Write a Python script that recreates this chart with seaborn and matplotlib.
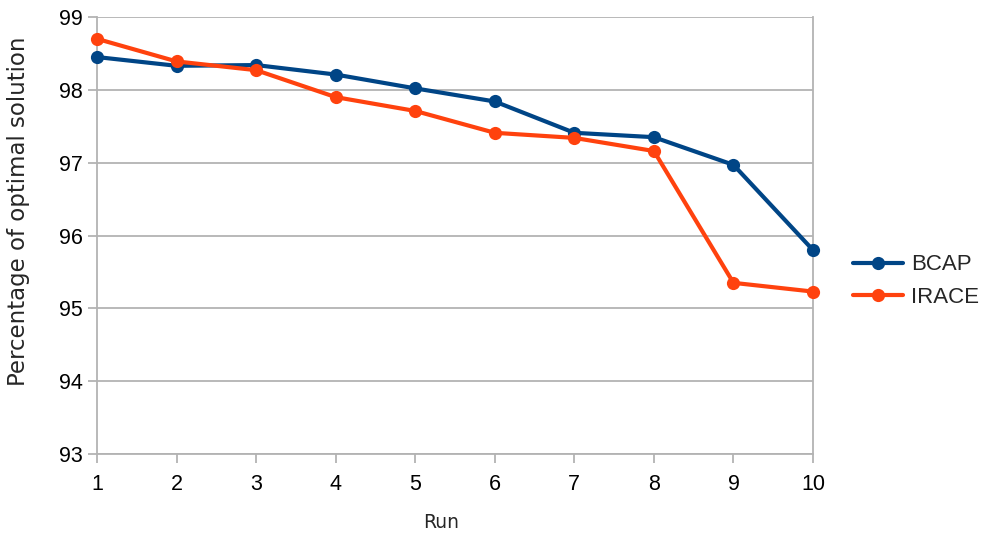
import matplotlib
matplotlib.use("Agg")
import matplotlib.pyplot as plt
import seaborn as sns
import pandas as pd

runs = [1, 2, 3, 4, 5, 6, 7, 8, 9, 10]
bcap = [98.45, 98.33, 98.34, 98.21, 98.02, 97.84, 97.41, 97.35, 96.97, 95.80]
irace = [98.70, 98.39, 98.27, 97.90, 97.71, 97.41, 97.34, 97.16, 95.35, 95.23]
series_names = ["BCAP", "IRACE"]
y_ticks = [93, 94, 95, 96, 97, 98, 99]

df = pd.DataFrame({
    "Run": runs * 2,
    "value": bcap + irace,
    "series": [series_names[0]] * len(runs) + [series_names[1]] * len(runs),
})

sns.set_theme(style="white")
plt.rcParams["font.family"] = ["Liberation Sans", "DejaVu Sans"]

W, H = 982, 537
fig = plt.figure(figsize=(W / 100, H / 100), dpi=100)
ax = fig.add_axes([97 / W, 1 - 454 / H, (813 - 97) / W, (454 - 17) / H])

palette = {"BCAP": "#004586", "IRACE": "#ff420e"}
sns.lineplot(data=df, x="Run", y="value", hue="series", palette=palette,
             marker="o", markersize=9.5, markeredgewidth=0, linewidth=3.0,
             ax=ax, legend=True)
for ln in ax.lines:
    ln.set_clip_on(False)
    ln.set_zorder(3)

grid_c = "#b3b3b3"
ax.set_xlim(1, 10)
ax.set_ylim(93, 99)
ax.set_xticks(runs)
ax.set_yticks(y_ticks)
ax.yaxis.grid(True, color=grid_c, linewidth=1.3)
ax.set_axisbelow(True)
for s in ax.spines.values():
    s.set_color(grid_c)
    s.set_linewidth(1.3)
ax.spines["top"].set_visible(False)
ax.tick_params(axis="both", which="both", direction="out", length=6.5,
               width=1.3, color=grid_c, labelsize=15.5, labelcolor="#000000",
               bottom=True, left=True)
ax.tick_params(axis="y", pad=4)
ax.tick_params(axis="x", pad=8)

label_font = ["DejaVu Sans"]
ax.set_xlabel("Run", fontsize=13.5, family=label_font, va="center")
ax.set_ylabel("Percentage of optimal solution", fontsize=16.5,
              family=label_font, va="center")
ax.xaxis.set_label_coords((441.5 - 97) / 716, (454 - 523) / 437)
ax.yaxis.set_label_coords((19 - 97) / 716, (454 - 211) / 437)

handles, labels = ax.get_legend_handles_labels()
ax.get_legend().remove()
fig.legend(handles, labels, loc="center left",
           bbox_to_anchor=(853 / W, 1 - 281 / H), bbox_transform=fig.transFigure,
           frameon=False, fontsize=16, handlelength=2.25, handletextpad=0.36,
           labelspacing=0.5, borderpad=0, borderaxespad=0)

fig.savefig("out.png", dpi=100)
